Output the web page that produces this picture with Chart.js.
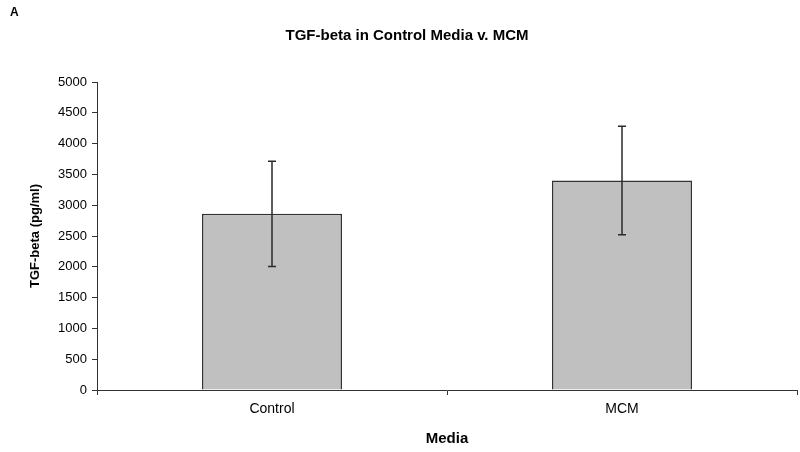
<!DOCTYPE html>
<html>
<head>
<meta charset="utf-8">
<script src="https://cdn.jsdelivr.net/npm/chart.js@4/dist/chart.umd.min.js"></script>
<style>
  html, body { margin: 0; padding: 0; background: #fff; }
  #wrap { position: relative; width: 800px; height: 452px; }
  #panel { position: absolute; left: 10px; top: 5px; font: bold 12px "Liberation Sans", Arial, sans-serif; color: #000; }
</style>
</head>
<body>
<div id="wrap">
  <canvas id="chart" width="800" height="452"></canvas>
  <div id="panel">A</div>
</div>
<script>
  var categories = ['Control', 'MCM'];
  var means = [2860, 3400];
  var errors = [855, 880];
  var yTicks = [0, 500, 1000, 1500, 2000, 2500, 3000, 3500, 4000, 4500, 5000];
  var chartTitle = 'TGF-beta in Control Media v. MCM';

  var font = '"Liberation Sans", Arial, sans-serif';

  // +/- error bars, positioned through the scales
  var errorBars = {
    id: 'errorBars',
    afterDatasetsDraw: function (chart) {
      var ctx = chart.ctx;
      var xs = chart.scales.x, ys = chart.scales.y;
      ctx.save();
      ctx.strokeStyle = '#2a2a2a';
      ctx.lineWidth = 1.5;
      means.forEach(function (m, i) {
        var x = xs.getPixelForValue(i);
        var top = ys.getPixelForValue(m + errors[i]);
        var bot = ys.getPixelForValue(m - errors[i]);
        ctx.beginPath();
        ctx.moveTo(x, top); ctx.lineTo(x, bot);
        ctx.moveTo(x - 4, top); ctx.lineTo(x + 4, top);
        ctx.moveTo(x - 4, bot); ctx.lineTo(x + 4, bot);
        ctx.stroke();
      });
      ctx.restore();
    }
  };

  // title sits a little left of the plot centre, like the original figure
  var topTitle = {
    id: 'topTitle',
    afterDraw: function (chart) {
      var ctx = chart.ctx;
      ctx.save();
      ctx.fillStyle = '#000';
      ctx.font = 'bold 15px ' + font;
      ctx.textAlign = 'center';
      ctx.textBaseline = 'middle';
      ctx.fillText(chartTitle, 407, 36);
      ctx.restore();
    }
  };

  new Chart(document.getElementById('chart'), {
    type: 'bar',
    data: {
      labels: categories,
      datasets: [{
        data: means,
        backgroundColor: '#c0c0c0',
        borderColor: '#333',
        borderWidth: 1.5,
        borderSkipped: 'bottom',
        categoryPercentage: 0.8,
        barPercentage: 0.5
      }]
    },
    options: {
      responsive: false,
      animation: false,
      layout: { padding: { left: 0, right: 3, top: 82, bottom: 0 } },
      plugins: {
        legend: { display: false },
        tooltip: { enabled: false },
        title: { display: false }
      },
      scales: {
        x: {
          grid: { offset: true, drawOnChartArea: false, drawTicks: true, tickLength: 5, color: '#333' },
          border: { color: '#333', width: 1 },
          ticks: { color: '#000', font: { family: font, size: 14 }, padding: 6 },
          title: { display: true, text: 'Media', color: '#000', font: { family: font, size: 15, weight: 'bold' }, padding: { top: 8 } },
          afterFit: function (s) { s.height = 62; }
        },
        y: {
          min: 0,
          max: 5000,
          afterBuildTicks: function (s) { s.ticks = yTicks.map(function (v) { return { value: v }; }); },
          grid: { drawOnChartArea: false, drawTicks: true, tickLength: 5, color: '#333' },
          border: { color: '#333', width: 1 },
          ticks: { color: '#000', font: { family: font, size: 13 }, padding: 5, callback: function (v) { return String(v); } },
          title: { display: true, text: 'TGF-beta (pg/ml)', color: '#000', font: { family: font, size: 13, weight: 'bold' }, padding: { top: 28, bottom: 4 } },
          afterFit: function (s) { s.width = 97; }
        }
      }
    },
    plugins: [errorBars, topTitle]
  });
</script>
</body>
</html>
